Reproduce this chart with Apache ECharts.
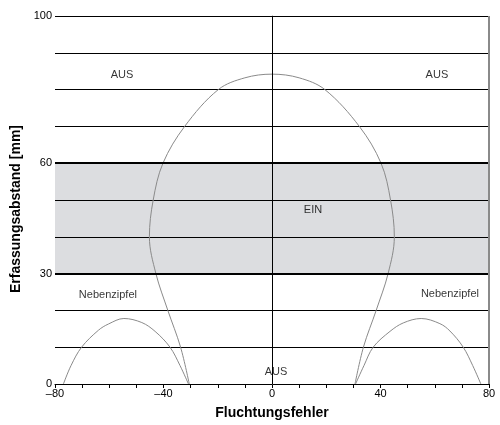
<!DOCTYPE html>
<html>
<head>
<meta charset="utf-8">
<script src="https://cdn.jsdelivr.net/npm/echarts@6/dist/echarts.min.js"></script>
<style>html,body{margin:0;padding:0;background:#fff}#c{width:500px;height:425px}</style>
</head>
<body>
<div id="c"></div>
<script>
// Main lobe (Hauptkeule): boundary from left foot -> top -> right foot
var mainX = [-30.5, -33.7, -38.4, -42.8, -45.2, -43.8, -40.2, -32.2, -19.8, -10.0, 0, 10.0, 19.5, 32.2, 40.2, 43.7, 45.1, 42.8, 38.4, 33.7, 30.6];
var mainY = [0, 10, 20, 30, 40, 50, 60, 70, 80, 83.2, 84.2, 83.2, 80, 70, 60, 50, 40, 30, 20, 10, 0];
// Side lobes (Nebenzipfel)
var leftLobeX = [-76.9, -74.1, -70.2, -64.0, -60.3, -54.6, -48.0, -43.1, -37.6, -33.9, -30.8];
var leftLobeY = [0, 5, 10, 14.6, 16.3, 17.8, 16.7, 14.3, 10, 5, 0];
var rightLobeX = [30.8, 33.9, 37.3, 43.5, 48.4, 55, 61.9, 65.6, 70.5, 74, 77];
var rightLobeY = [0, 5, 10, 14.3, 16.6, 17.8, 16.4, 14.4, 10, 5, 0];
// Zones
var einZone = [30, 60];
// Annotations
var noteText = ['AUS', 'AUS', 'EIN', 'Nebenzipfel', 'Nebenzipfel', 'AUS'];
var noteX = [-55.3, 60.8, 15.1, -60.5, 65.6, 1.5];
var noteY = [84.1, 84.1, 47.2, 24.3, 24.5, 3.2];
// Axis ticks
var xLabels = [-80, -40, 0, 40, 80];
var yLabels = [0, 30, 60, 100];

function pairs(xs, ys) { return xs.map(function (x, i) { return [x, ys[i]]; }); }
var FONT = "'Liberation Sans', Arial, Helvetica, sans-serif";
var curveStyle = { color: '#8a8a8a', width: 1 };

var chart = echarts.init(document.getElementById('c'), null, { renderer: 'canvas' });
chart.setOption({
  animation: false,
  grid: { left: 55, right: 11, top: 16, bottom: 38 },
  xAxis: {
    type: 'value', min: -80, max: 80, interval: 10,
    name: 'Fluchtungsfehler', nameLocation: 'middle', nameGap: 22,
    nameTextStyle: { fontFamily: FONT, fontSize: 14, fontWeight: 'bold', color: '#000' },
    axisLine: { onZero: false, lineStyle: { color: '#000', width: 1 } },
    axisTick: { length: 4, lineStyle: { color: '#000' } },
    axisLabel: {
      fontFamily: FONT, fontSize: 11, color: '#000', margin: 4,
      formatter: function (v) { return xLabels.indexOf(v) >= 0 ? (v < 0 ? '\u2013' + Math.abs(v) : String(v)) : ''; }
    },
    splitLine: { show: false }
  },
  yAxis: {
    type: 'value', min: 0, max: 100, interval: 10, z: 5,
    name: 'Erfassungsabstand [mm]', nameLocation: 'middle', nameGap: 30,
    nameTextStyle: { fontFamily: FONT, fontSize: 14, fontWeight: 'bold', color: '#000', padding: [0, 18, 0, 0] },
    axisLine: { lineStyle: { color: '#777', width: 1 } },
    axisTick: { length: 3, lineStyle: { color: '#000' } },
    axisLabel: {
      fontFamily: FONT, fontSize: 11, color: '#000', margin: 3,
      formatter: function (v) { return yLabels.indexOf(v) >= 0 ? String(v) : ''; }
    },
    splitLine: { show: true, lineStyle: { color: '#000', width: 1 } }
  },
  series: [
    {
      type: 'line', data: pairs(mainX, mainY), smooth: 0.35, symbol: 'none',
      lineStyle: curveStyle, z: 6,
      markArea: {
        silent: true, z: 1,
        itemStyle: { color: '#dcdde0' },
        data: [[{ yAxis: einZone[0] }, { yAxis: einZone[1] }]]
      },
      markLine: {
        silent: true, symbol: 'none', z: 7, label: { show: false },
        data: [
          { yAxis: einZone[0], lineStyle: { color: '#000', width: 2, type: 'solid' } },
          { yAxis: einZone[1], lineStyle: { color: '#000', width: 2, type: 'solid' } },
          { xAxis: 0, lineStyle: { color: '#000', width: 1, type: 'solid' } },
          { xAxis: 80, lineStyle: { color: '#8a8a8a', width: 2, type: 'solid' } }
        ]
      }
    },
    { type: 'line', data: pairs(leftLobeX, leftLobeY), smooth: 0.35, symbol: 'none', lineStyle: curveStyle, z: 6 },
    { type: 'line', data: pairs(rightLobeX, rightLobeY), smooth: 0.35, symbol: 'none', lineStyle: curveStyle, z: 6 },
    {
      type: 'scatter', symbolSize: 0, z: 8, silent: true,
      data: noteText.map(function (t, i) { return { name: t, value: [noteX[i], noteY[i]] }; }),
      label: {
        show: true, position: 'inside', formatter: '{b}',
        fontFamily: FONT, fontSize: 11, color: '#000'
      }
    }
  ]
});
</script>
</body>
</html>
